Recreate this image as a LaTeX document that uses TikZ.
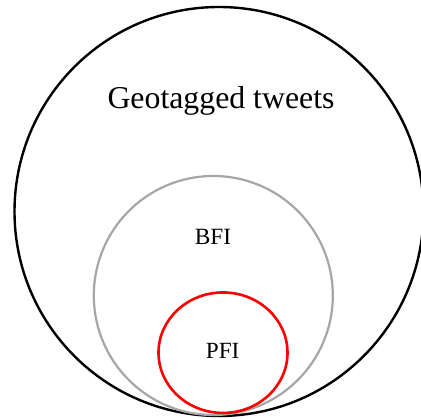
\documentclass[tikz,border=0pt]{standalone}
\usepackage{fontspec}
\setmainfont{Liberation Serif}
\usetikzlibrary{shapes.geometric}
\definecolor{bfigray}{HTML}{A6A6A6}
\tikzset{
  setring/.style={draw, inner sep=0pt, outer sep=0pt},
  lbl/.style={anchor=base, inner sep=0pt, text=black}
}
\begin{document}
\begin{tikzpicture}[x=1pt,y=1pt]
\useasboundingbox (0,0) rectangle (421,-419);
\clip (0,0) rectangle (421,-419);
\node[setring, circle, line width=2.4pt, black, minimum size=409pt] (geo) at (219,-211.5) {};
\node[setring, circle, line width=2.2pt, bfigray, minimum size=239pt] (bfi) at (213.3,-295.5) {};
\node[setring, ellipse, line width=2.6pt, red, minimum width=129pt, minimum height=120.5pt] (pfi) at (223,-352.7) {};
\node[lbl, font=\fontsize{31.8}{38}\selectfont] (geolbl) at (221,-109) {Geotagged tweets};
\node[lbl, font=\fontsize{23.3}{28}\selectfont] (bfilbl) at (213,-245) {BFI};
\node[lbl, font=\fontsize{23.2}{28}\selectfont] (pfilbl) at (222.7,-358.3) {PFI};
\end{tikzpicture}
\end{document}
